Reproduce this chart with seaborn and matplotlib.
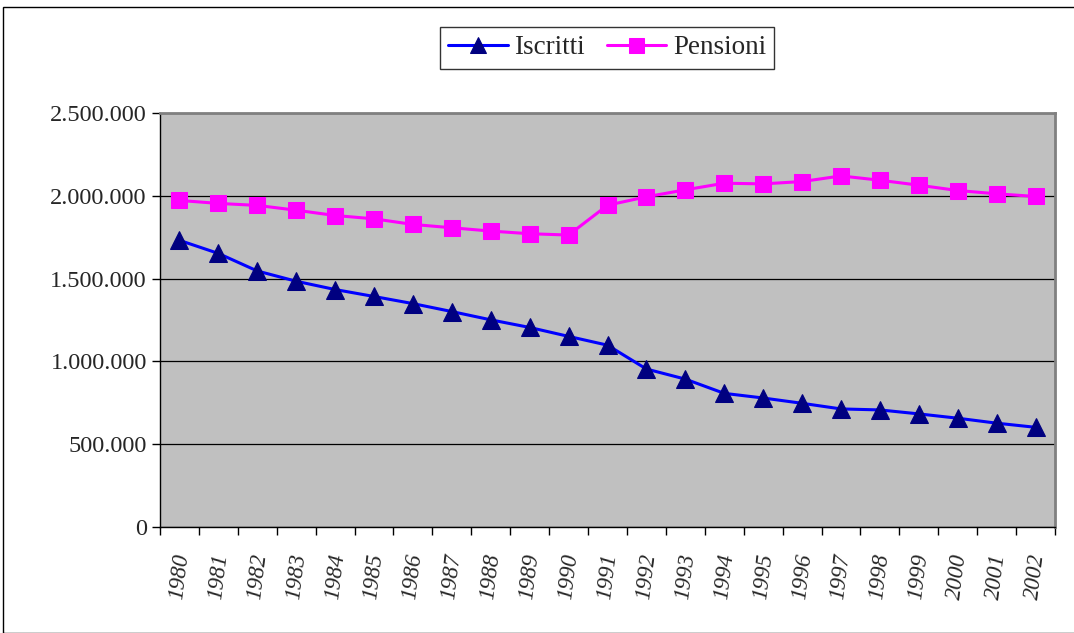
import pandas as pd
import numpy as np
import seaborn as sns
import matplotlib.pyplot as plt
from matplotlib.ticker import FuncFormatter

# values
anni = [1980, 1981, 1982, 1983, 1984, 1985, 1986, 1987, 1988, 1989, 1990, 1991,
        1992, 1993, 1994, 1995, 1996, 1997, 1998, 1999, 2000, 2001, 2002]
iscritti = [1731000, 1652000, 1546000, 1484000, 1434000, 1392000, 1349000, 1301000,
            1251000, 1205000, 1151000, 1098000, 954000, 893000, 807000, 779000,
            747000, 713000, 707000, 683000, 657000, 627000, 602000]
pensioni = [1972000, 1954000, 1942000, 1913000, 1881000, 1861000, 1827000, 1807000,
            1787000, 1771000, 1763000, 1943000, 1994000, 2036000, 2076000, 2072000,
            2086000, 2120000, 2094000, 2064000, 2032000, 2012000, 1996000]

data = pd.DataFrame({'pos': np.arange(len(anni)), 'Anno': anni,
                     'Iscritti': iscritti, 'Pensioni': pensioni})

sns.set_style('white')
plt.rcParams['font.family'] = ['Liberation Serif', 'DejaVu Serif']

fig = plt.figure(figsize=(10.74, 6.33), dpi=100)
# outer chart frame
fig.patches.append(plt.Rectangle((3 / 1074, 0.0), 1.2, (633 - 7) / 633, transform=fig.transFigure,
                                 fill=False, edgecolor='black', linewidth=1))
ax = fig.add_axes([160 / 1074, 1 - 527 / 633, (1055 - 160) / 1074, (527 - 113) / 633])
ax.set_facecolor('#C0C0C0')

sns.lineplot(x='pos', y='Iscritti', data=data, ax=ax, color='#0000FF', linewidth=2.2,
             marker='^', markersize=13, markerfacecolor='#000080', markeredgecolor='#000080',
             label='Iscritti')
sns.lineplot(x='pos', y='Pensioni', data=data, ax=ax, color='#FF00FF', linewidth=2.2,
             marker='s', markersize=12, markerfacecolor='#FF00FF', markeredgecolor='#FF00FF',
             label='Pensioni')

ax.set_xlim(-0.5, len(anni) - 0.5)
ax.set_ylim(0, 2500000)
ax.set_yticks(np.arange(0, 2500001, 500000))
ax.yaxis.set_major_formatter(FuncFormatter(lambda v, p: '{:,.0f}'.format(v).replace(',', '.')))
ax.yaxis.grid(True, color='black', linewidth=0.9)
ax.set_axisbelow(True)

ax.set_xticks(data['pos'])
ax.set_xticklabels([str(a) for a in anni], rotation=83, fontstyle='italic', fontsize=16.5)
ax.set_xticks(np.arange(-0.5, len(anni)), minor=True)
ax.tick_params(axis='x', which='major', length=0, pad=18)
ax.tick_params(axis='x', which='minor', length=6, width=1, color='black', direction='out', bottom=True)
ax.tick_params(axis='y', length=6, width=1, color='black', direction='out', left=True, labelsize=17.5)
ax.set_xlabel('')
ax.set_ylabel('')

for s in ['top', 'right']:
    ax.spines[s].set_color('#808080')
    ax.spines[s].set_linewidth(2)
for s in ['left', 'bottom']:
    ax.spines[s].set_color('black')
    ax.spines[s].set_linewidth(1)

ax.legend_.remove()
h, l = ax.get_legend_handles_labels()
leg = fig.legend(h, l, loc='center', bbox_to_anchor=(607 / 1074, 1 - 48 / 633), ncol=2,
                 fontsize=19.5, frameon=True, fancybox=False, handlelength=2.2,
                 handletextpad=0.25, columnspacing=0.8, borderpad=0.3, markerscale=0.9)
leg.get_frame().set_edgecolor('black')
leg.get_frame().set_linewidth(1)

fig.savefig('out.png', dpi=100, facecolor='white')
